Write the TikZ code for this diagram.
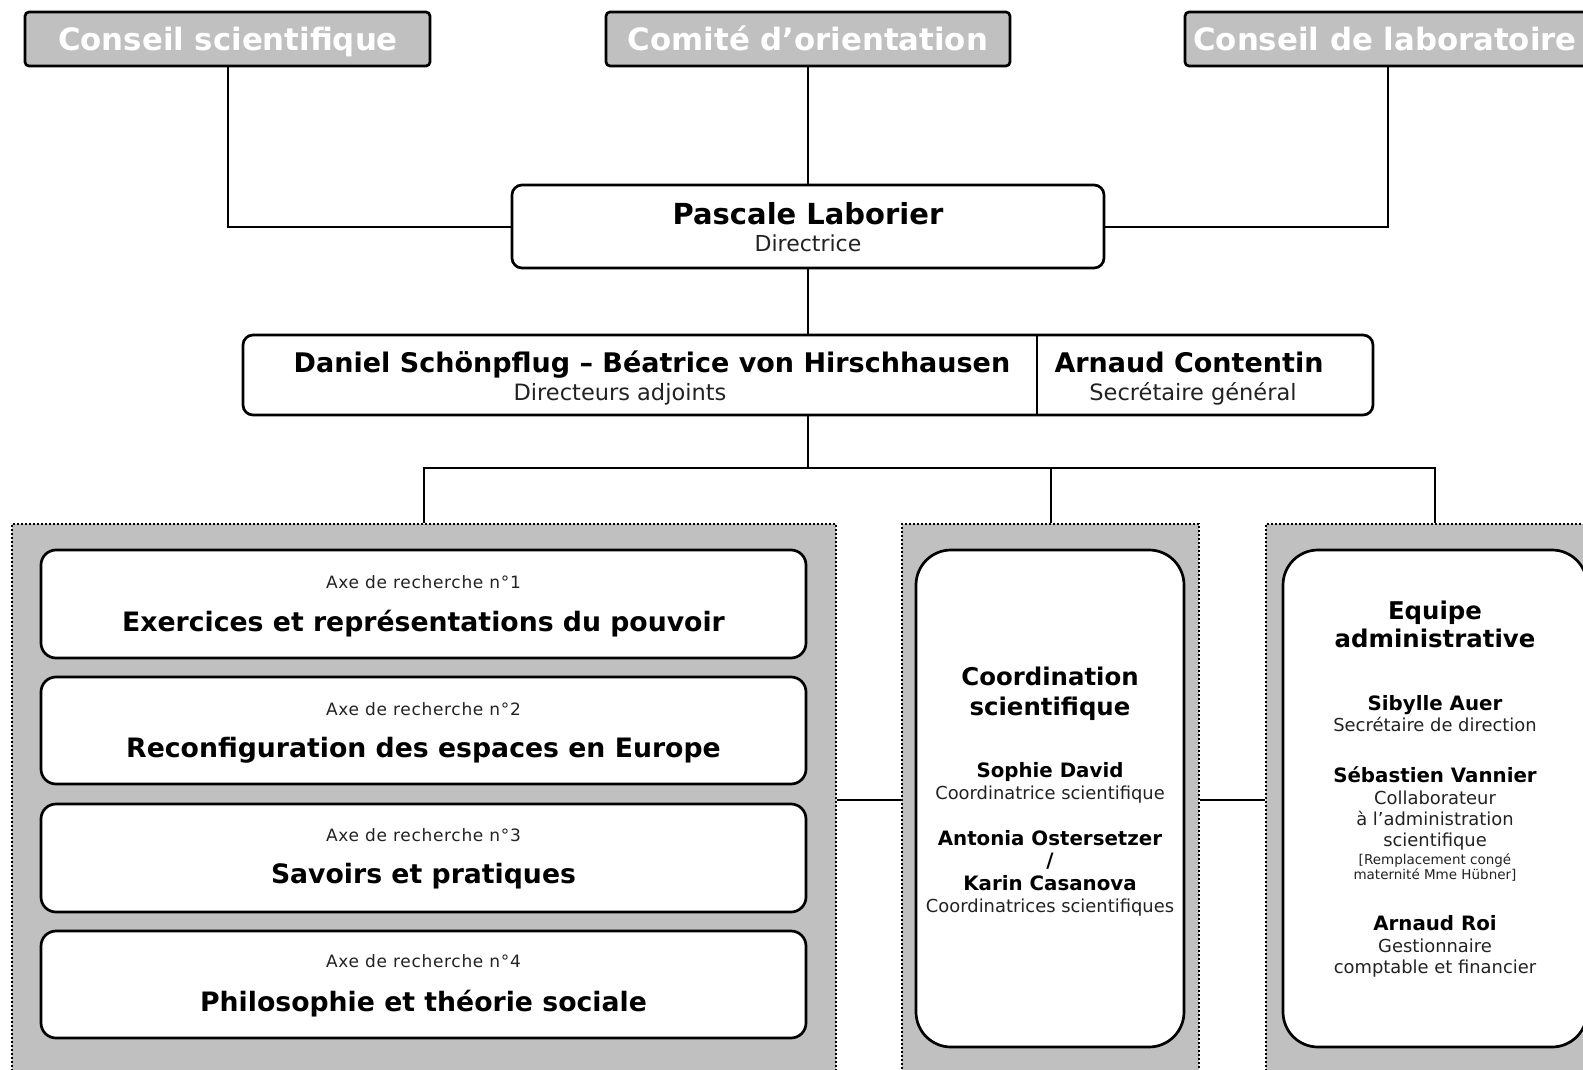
\documentclass[tikz,border=0pt]{standalone}
\usepackage{fontspec}
\setmainfont{DejaVu Sans}
\newcommand\fsz[1]{\fontsize{#1}{#1}\selectfont}
\definecolor{panelgray}{HTML}{C0C0C0}
\definecolor{subtx}{HTML}{222222}
\begin{document}
\begin{tikzpicture}[x=1pt,y=-1pt,
  conn/.style={line width=2pt},
  topbox/.style={draw, line width=2.7pt, fill=panelgray, rounded corners=4pt, rectangle, inner sep=0pt},
  whitebox/.style={draw, line width=2.7pt, fill=white, rectangle, inner sep=0pt},
  panel/.style={draw, line width=2pt, fill=panelgray, dash pattern=on 2pt off 2pt, rectangle, inner sep=0pt},
  lbl/.style={inner sep=0pt, anchor=base},
  ttl/.style={lbl, font=\fsz{30.8}\bfseries, text=white},
  big/.style={lbl, font=\fsz{29}\bfseries},
  bigb/.style={lbl, font=\fsz{27}\bfseries},
  sub/.style={lbl, font=\fsz{22.5}, text=subtx},
  axs/.style={lbl, font=\fsz{17}\addfontfeatures{LetterSpace=4}, text=subtx},
  axt/.style={lbl, font=\fsz{26.7}\bfseries},
  hd/.style={lbl, font=\fsz{24.4}\bfseries},
  nm/.style={lbl, font=\fsz{19.8}\bfseries},
  rl/.style={lbl, font=\fsz{17.9}, text=subtx},
  sm/.style={lbl, font=\fsz{13.5}, text=subtx},
]
\useasboundingbox (0,0) rectangle (1583,1070);
\fill[white] (0,0) rectangle (1583,1070);

% panels
\node[panel, minimum width=824pt, minimum height=551pt] (p1) at (424,799.5) {};
\node[panel, minimum width=297pt, minimum height=551pt] (p2) at (1050.5,799.5) {};
\node[panel, minimum width=338pt, minimum height=551pt] (p3) at (1435,799.5) {};

% top boxes
\node[topbox, minimum width=405pt, minimum height=54pt] (cs) at (227.5,39) {};
\node[topbox, minimum width=404pt, minimum height=54pt] (co) at (808,39) {};
\node[topbox, minimum width=405pt, minimum height=54pt] (cl) at (1387.5,39) {};

% director
\node[whitebox, rounded corners=10pt, minimum width=592pt, minimum height=83pt] (pl) at (808,226.5) {};
% deputies
\node[whitebox, rounded corners=10pt, minimum width=1130pt, minimum height=80pt] (dep) at (808,375) {};
\coordinate (dvt) at (1037,335);
\coordinate (dvb) at (1037,415);

% connectors
\draw[conn] (cs.south) |- (pl.west);
\draw[conn] (co.south) -- (pl.north);
\draw[conn] (cl.south) |- (pl.east);
\draw[conn] (pl.south) -- (dep.north);
\coordinate (j) at (808,468);
\draw[conn] (dep.south) -- (j);
\draw[conn] (j) -| (p1.north);
\draw[conn] (j) -| (p3.north);
\draw[conn] (p2.north) -- (p2.north |- j);
\draw[conn] (p1.east) -- (p2.west);
\draw[conn] (p2.east) -- (p3.west);
\draw[line width=2pt] (dvt) -- (dvb);

% axe boxes
\node[whitebox, rounded corners=15pt, minimum width=765pt, minimum height=108pt] (a1) at (423.5,604) {};
\node[whitebox, rounded corners=15pt, minimum width=765pt, minimum height=107pt] (a2) at (423.5,730.5) {};
\node[whitebox, rounded corners=15pt, minimum width=765pt, minimum height=108pt] (a3) at (423.5,858) {};
\node[whitebox, rounded corners=15pt, minimum width=765pt, minimum height=107pt] (a4) at (423.5,984.5) {};

% inner boxes
\node[whitebox, rounded corners=35pt, minimum width=268pt, minimum height=497pt] (cb) at (1050,798.5) {};
\node[whitebox, rounded corners=35pt, minimum width=304pt, minimum height=497pt] (eb) at (1435,798.5) {};

% texts
\node[ttl] (t1) at (228,51) {Conseil scientifique};
\node[ttl] (t2) at (808,51) {Comité d’orientation};
\node[ttl] (t3) at (1385,51) {Conseil de laboratoire};

\node[big] (t4) at (808,224.5) {Pascale Laborier};
\node[sub, font=\fsz{22}] (t5) at (808,251.8) {Directrice};

\node[bigb] (t6) at (652,372.8) {Daniel Schönpflug – Béatrice von Hirschhausen};
\node[sub] (t7) at (620,400) {Directeurs adjoints};
\node[bigb] (t8) at (1189,372.8) {Arnaud Contentin};
\node[sub] (t9) at (1193,400) {Secrétaire général};

\node[axs] (x1) at (423.5,588) {Axe de recherche n°1};
\node[axt] (y1) at (423.5,631.5) {Exercices et représentations du pouvoir};
\node[axs] (x2) at (423.5,715) {Axe de recherche n°2};
\node[axt] (y2) at (423.5,757.5) {Reconfiguration des espaces en Europe};
\node[axs] (x3) at (423.5,841) {Axe de recherche n°3};
\node[axt] (y3) at (423.5,883.5) {Savoirs et pratiques};
\node[axs] (x4) at (423.5,967) {Axe de recherche n°4};
\node[axt] (y4) at (423.5,1011.5) {Philosophie et théorie sociale};

\node[hd] (c1) at (1050,685) {Coordination};
\node[hd] (c2) at (1050,715) {scientifique};
\node[nm] (c3) at (1050,777) {Sophie David};
\node[rl] (c4) at (1050,799.4) {Coordinatrice scientifique};
\node[nm] (c5) at (1050,845) {Antonia Ostersetzer};
\node[nm] (c6) at (1050,867) {/};
\node[nm] (c7) at (1050,890) {Karin Casanova};
\node[rl] (c8) at (1050,912.4) {Coordinatrices scientifiques};

\node[hd] (e1) at (1435,619) {Equipe};
\node[hd] (e2) at (1435,647) {administrative};
\node[nm] (e3) at (1435,710) {Sibylle Auer};
\node[rl] (e4) at (1435,731.4) {Secrétaire de direction};
\node[nm] (e5) at (1435,782) {Sébastien Vannier};
\node[rl] (e6) at (1435,804.4) {Collaborateur};
\node[rl] (e7) at (1435,825.4) {à l’administration};
\node[rl] (e8) at (1435,846.4) {scientifique};
\node[sm] (e9) at (1435,864.8) {[Remplacement congé};
\node[sm] (e10) at (1435,879.8) {maternité Mme Hübner]};
\node[nm] (e11) at (1435,930) {Arnaud Roi};
\node[rl] (e12) at (1435,952.4) {Gestionnaire};
\node[rl] (e13) at (1435,973.4) {comptable et financier};
\end{tikzpicture}
\end{document}
